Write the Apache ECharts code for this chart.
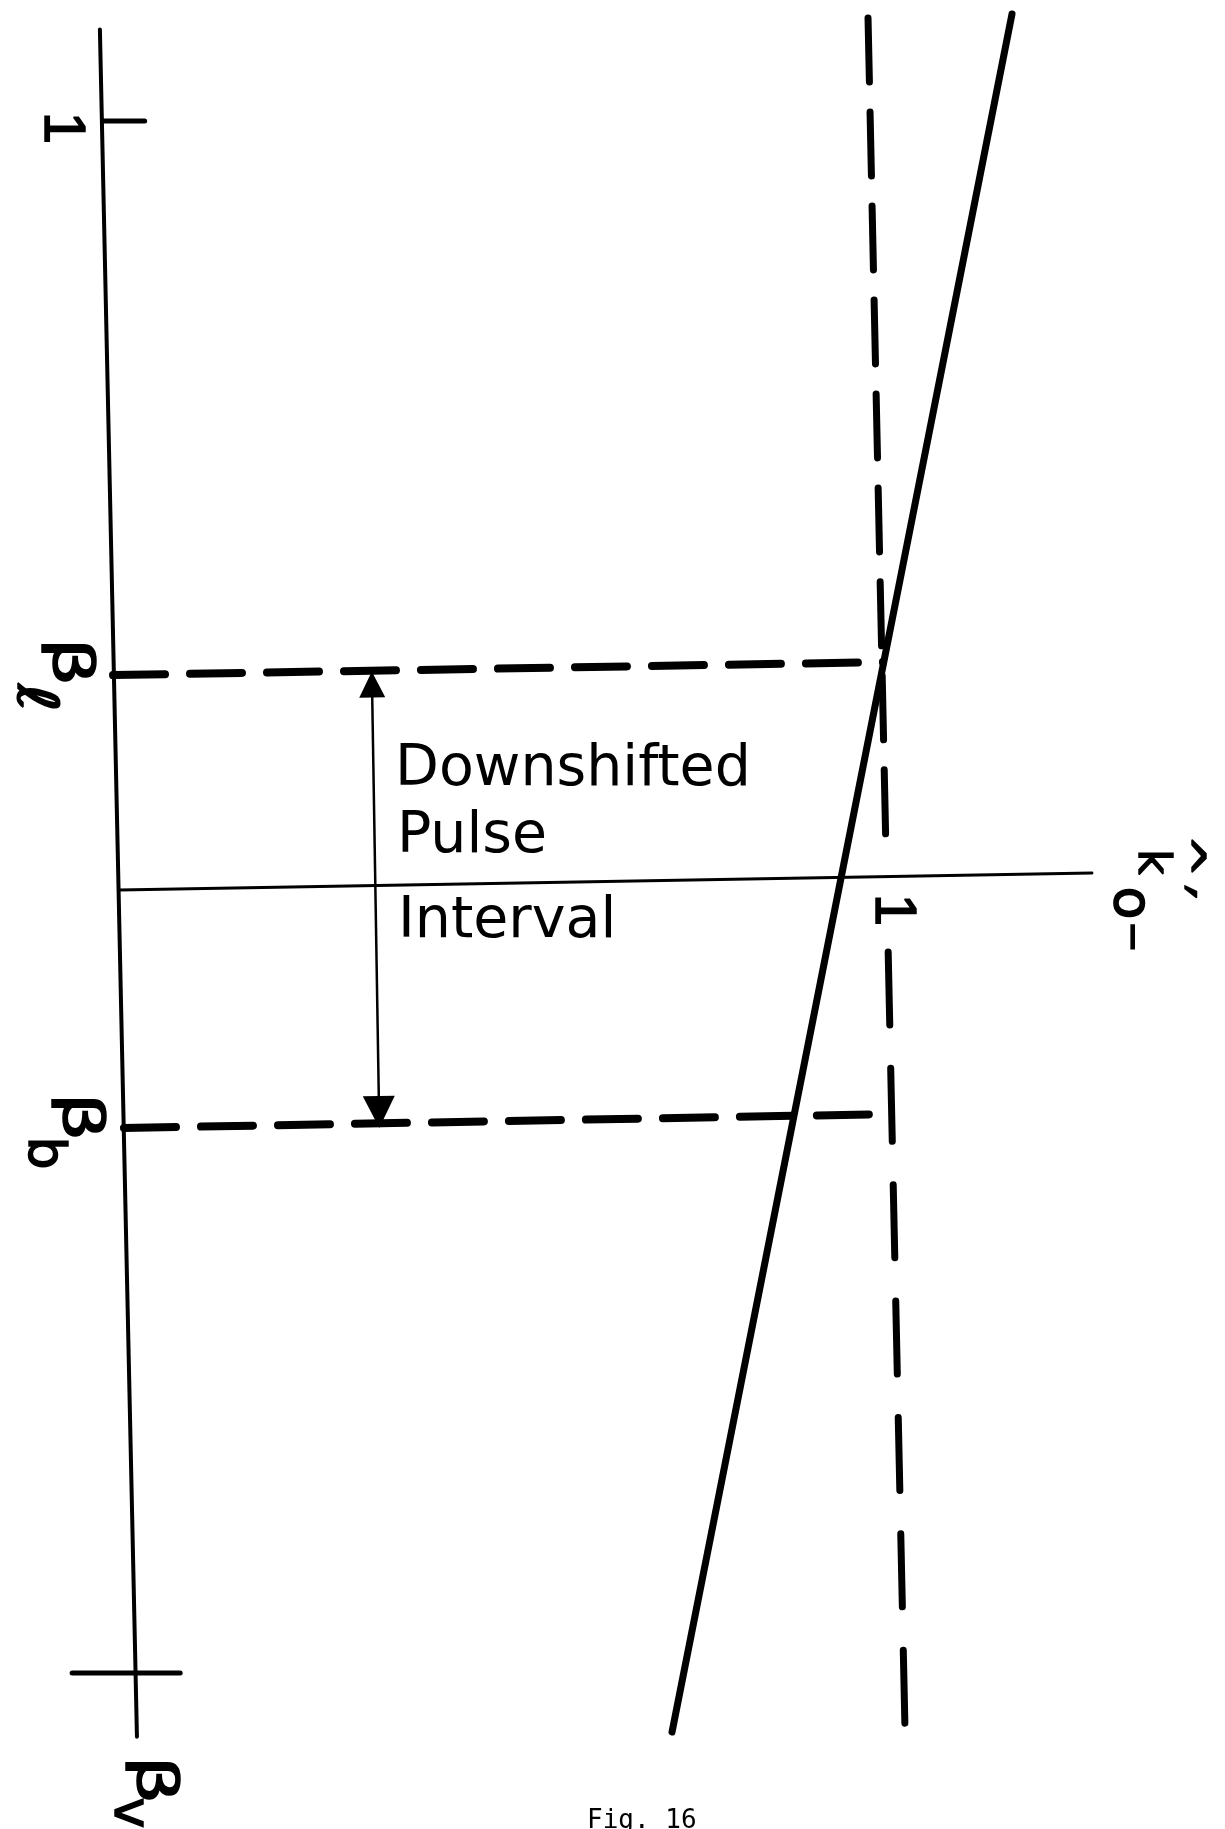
<!DOCTYPE html>
<html>
<head>
<meta charset="utf-8">
<script src="https://cdn.jsdelivr.net/npm/echarts@6/dist/echarts.min.js"></script>
<style>
  html, body { margin: 0; padding: 0; background: #fff; }
  #chart { width: 1225px; height: 1829px; }
</style>
</head>
<body>
<div id="chart"></div>
<script>
// Coordinates: k = normalised wavenumber k̂'o− (0 on the β axis, 1 on the dashed cutoff),
// b = velocity parameter β (0 at β_v, 1 at the top tick).

// Tick labels along the β axis
const betaTickText = ['1', 'β', 'β', 'β'];
const betaTickSub = ['', 'ℓ', 'b', 'v'];
const betaTickValue = [1.0, 0.643, 0.351, 0.0];
// Tick label on the k axis
const kTickText = ['1'];
const kTickValue = [1.0];

// Drawn segments, endpoints as [k, β]
const betaAxis = [[-0.017, 1.059], [0.031, -0.041]];
const kAxis = [[0.008, 0.5045], [1.268, 0.5155]];
const dispersionLine = [[1.1645, 1.069], [0.7241, -0.038]];
// k = 1 cutoff, interrupted where its tick label sits on the k axis
const cutoffUpper = [[0.978, 1.0664], [1.0014, 0.5258]];
const cutoffLower = [[1.0041, 0.4646], [1.0259, -0.0367]];
const betaLLevel = [[0.0, 0.643], [0.9974, 0.6514]];
const betaBLevel = [[0.0142, 0.3512], [1.0104, 0.3602]];
const topTick = [[-0.013, 1.0], [0.041, 1.0]];
const bottomTick = [[-0.053, 0.0], [0.087, 0.0]];
const pulseArrow = [[0.3355, 0.637], [0.3446, 0.3615]];

const annotation = ['Downshifted', 'Pulse', 'Interval'];
const caption = 'Fig. 16';

const chart = echarts.init(document.getElementById('chart'), null, { renderer: 'canvas' });

function segment(name, data, width, dash) {
  return {
    type: 'line',
    name: name,
    data: data,
    symbol: 'none',
    silent: true,
    animation: false,
    lineStyle: { color: '#000', width: width, type: dash || 'solid', cap: 'round' },
    z: 2
  };
}

chart.setOption({
  backgroundColor: '#fff',
  animation: false,
  grid: { left: 0, right: 0, top: 0, bottom: 0, containLabel: false },
  xAxis: { type: 'value', min: -0.1464, max: 1.4404, show: false },
  yAxis: { type: 'value', min: -0.1005, max: 1.078, show: false },
  series: [
    segment('β axis', betaAxis, 4),
    segment('k axis', kAxis, 3),
    segment('top tick', topTick, 5),
    segment('β_v tick', bottomTick, 5),
    segment('dispersion', dispersionLine, 7),
    segment('cutoff upper', cutoffUpper, 7, [64, 30]),
    segment('cutoff lower', cutoffLower, 7, [73, 43.4]),
    segment('β_ℓ level', betaLLevel, 8, [52, 25]),
    segment('β_b level', betaBLevel, 8, [52, 25]),
    {
      type: 'lines',
      coordinateSystem: 'cartesian2d',
      silent: true,
      animation: false,
      symbol: ['triangle', 'triangle'],
      symbolSize: [26, 32],
      itemStyle: { color: '#000' },
      lineStyle: { color: '#000', width: 2.5, opacity: 1 },
      data: [{ coords: pulseArrow }],
      z: 3
    }
  ]
});

// Rotated labels (text reads top-to-bottom) and the upright annotation
const ROT = -Math.PI / 2;
const FONT = '"DejaVu Sans", sans-serif';
function label(text, x, y, size, rotate, extra) {
  const el = {
    type: 'text',
    x: x,
    y: y,
    rotation: rotate ? ROT : 0,
    silent: true,
    z: 10,
    style: {
      text: text,
      fill: '#000',
      fontSize: size,
      fontFamily: FONT,
      align: 'center',
      verticalAlign: 'middle'
    }
  };
  if (rotate) {
    el.style.stroke = '#000';
    el.style.lineWidth = 1.5;
  }
  if (extra) {
    if (extra.scaleX) el.scaleX = extra.scaleX;
    if (extra.font) el.style.fontFamily = extra.font;
    if (extra.align) el.style.align = extra.align;
  }
  return el;
}

const g = [];
const LIB = '"Liberation Sans", Arial, sans-serif';
// β-axis labels
g.push(label(betaTickText[0], 61, 128, 58, true, { font: LIB }));
g.push(label(betaTickText[1], 69, 662, 56, true, { scaleX: 1.35 }));
g.push(label(betaTickSub[1], 33, 698, 56, true, { scaleX: 1.2 }));
g.push(label(betaTickText[2], 79, 1117, 56, true, { scaleX: 1.35 }));
g.push(label(betaTickSub[2], 43, 1153, 52, true));
g.push(label(betaTickText[3], 153, 1780, 56, true, { scaleX: 1.35 }));
g.push(label(betaTickSub[3], 129, 1813, 52, true));
// k-axis tick label and axis name k̂'o−
g.push(label(kTickText[0], 892, 910, 58, true, { font: LIB }));
g.push(label('k', 1150, 862, 44, true));
g.push(label('^', 1182, 856, 52, true));
g.push(label('′', 1167, 892, 64, true));
g.push(label('o', 1129, 903, 54, true));
g.push(label('−', 1131, 937, 38, true));
// Annotation between the two levels
[[395, 770], [397, 837], [398, 922]].forEach(function (p, i) {
  g.push(label(annotation[i], p[0], p[1], 57, false, { align: 'left' }));
});
// Caption
g.push(label(caption, 587, 1821, 26, false, { align: 'left', font: '"DejaVu Sans Mono", monospace' }));

chart.setOption({ graphic: { elements: g } });
</script>
</body>
</html>
